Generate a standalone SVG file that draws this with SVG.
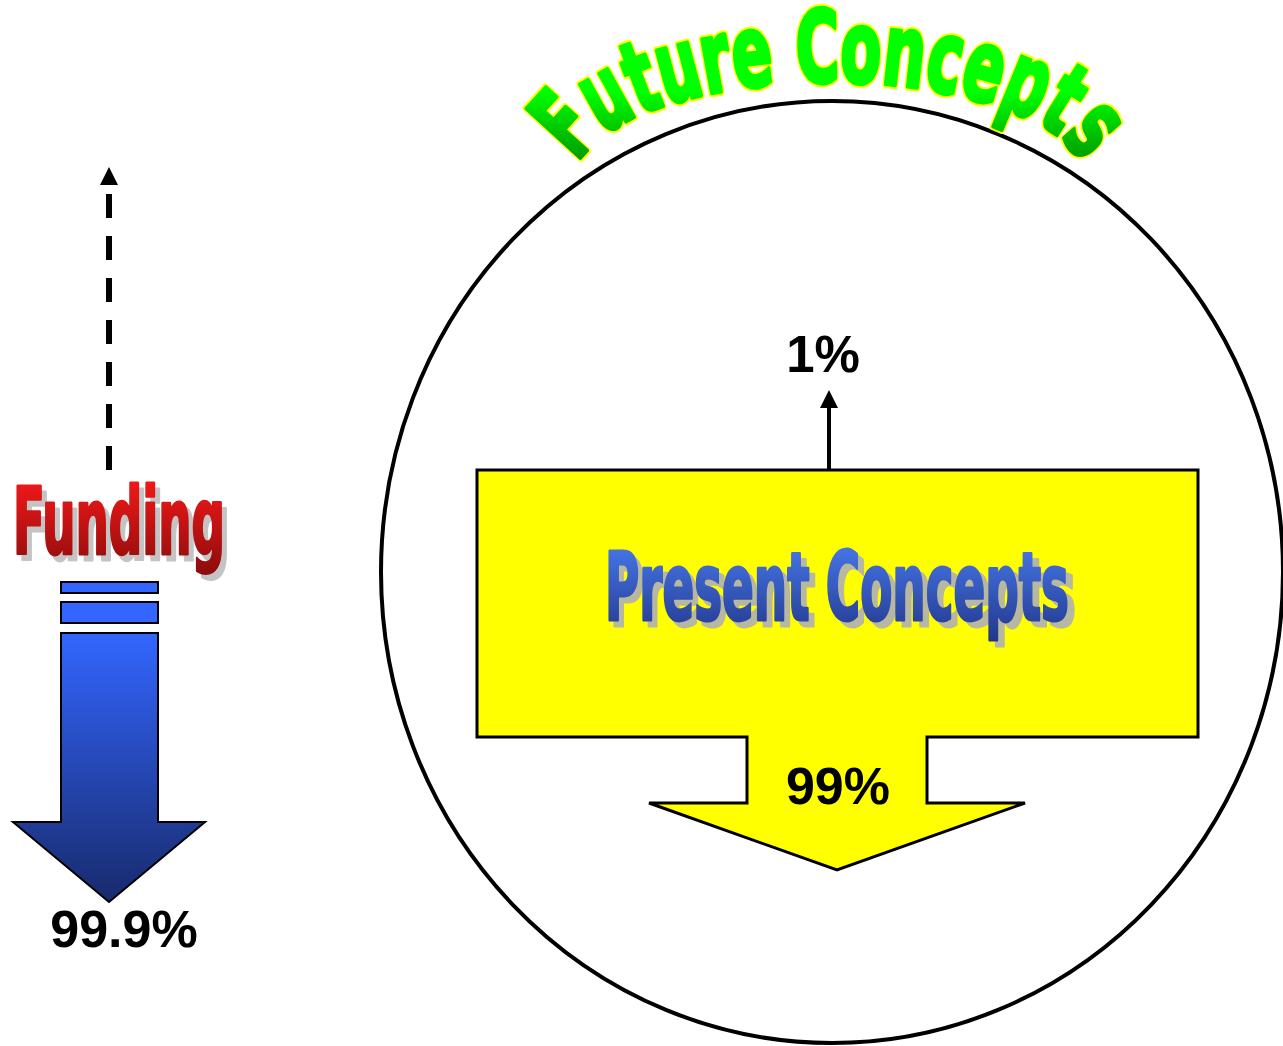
<svg xmlns="http://www.w3.org/2000/svg" width="1283" height="1046" viewBox="0 0 1283 1046">
  <style>
    .pct { font-family: "Liberation Sans", Arial, sans-serif; font-weight: bold; fill: #000; text-anchor: middle; }
    .word { font-family: "Liberation Sans Narrow", "DejaVu Sans Condensed", "Liberation Sans", sans-serif; font-weight: bold; stroke-linejoin: round; }
    .outline { stroke: #000; stroke-width: 3; stroke-linejoin: miter; }
  </style>
  <defs>
    <linearGradient id="gRed" x1="0" y1="0" x2="0" y2="1">
      <stop offset="0" stop-color="#ff1a1a"/>
      <stop offset="1" stop-color="#8a0c0c"/>
    </linearGradient>
    <linearGradient id="gBlueArrow" x1="0" y1="0" x2="0" y2="1">
      <stop offset="0" stop-color="#3366ff"/>
      <stop offset="1" stop-color="#182a6c"/>
    </linearGradient>
    <linearGradient id="gBlueText" x1="0" y1="0" x2="0" y2="1">
      <stop offset="0" stop-color="#4a7ef2"/>
      <stop offset="1" stop-color="#22368a"/>
    </linearGradient>
    <linearGradient id="gGreen" gradientUnits="userSpaceOnUse" x1="0" y1="8" x2="0" y2="160">
      <stop offset="0" stop-color="#00ff00"/>
      <stop offset="0.55" stop-color="#00ff00"/>
      <stop offset="1" stop-color="#009a00"/>
    </linearGradient>
    <path id="arch" d="M 574 182 A 256 100 0 0 1 1086 182"/>
  </defs>

  <rect width="1283" height="1046" fill="#fff"/>

  <!-- outer circle -->
  <g id="circle">
    <ellipse cx="832" cy="572" rx="451" ry="471" fill="none" stroke="#000" stroke-width="4"/>
  </g>

  <!-- arched title: yellow rim underneath, heavy green face on top -->
  <g id="future-concepts">
    <text class="word" font-size="100" fill="#ffff00" stroke="#ffff00" stroke-width="8" text-anchor="middle">
      <textPath href="#arch" startOffset="50%" textLength="548" lengthAdjust="spacingAndGlyphs">Future Concepts</textPath>
    </text>
    <text class="word" font-size="100" fill="url(#gGreen)" stroke="url(#gGreen)" stroke-width="4" text-anchor="middle">
      <textPath href="#arch" startOffset="50%" textLength="548" lengthAdjust="spacingAndGlyphs">Future Concepts</textPath>
    </text>
  </g>

  <!-- present concepts block with downward arrow -->
  <g id="present-concepts">
    <polygon class="outline" fill="#ffff00" points="477,470 1198,470 1198,737 927,737 927,803 1025,803 837,870 649,803 747,803 747,737 477,737"/>
    <text class="word" x="610" y="626" font-size="94" fill="#b8b8a0" stroke="#b8b8a0" stroke-width="3" textLength="466" lengthAdjust="spacingAndGlyphs">Present Concepts</text>
    <text class="word" x="605" y="620" font-size="94" fill="url(#gBlueText)" stroke="url(#gBlueText)" stroke-width="3" textLength="464" lengthAdjust="spacingAndGlyphs">Present Concepts</text>
    <text class="pct" x="838" y="804" font-size="52">99%</text>
  </g>

  <!-- 1% label above the block -->
  <g id="one-percent">
    <text class="pct" x="823" y="372" font-size="51">1%</text>
  </g>

  <!-- funding label -->
  <g id="funding">
    <text class="word" x="18" y="560" font-size="93" fill="#c4c4c4" stroke="#c4c4c4" stroke-width="3" textLength="212" lengthAdjust="spacingAndGlyphs">Funding</text>
    <text class="word" x="13" y="554" font-size="93" fill="url(#gRed)" stroke="url(#gRed)" stroke-width="3" textLength="212" lengthAdjust="spacingAndGlyphs">Funding</text>
  </g>

  <!-- funding bars and down arrow -->
  <g id="funding-arrow">
    <rect x="61" y="582" width="97" height="11" fill="#3366ff" stroke="#000" stroke-width="2"/>
    <rect x="61" y="602" width="97" height="21" fill="#3366ff" stroke="#000" stroke-width="2"/>
    <polygon points="61,633 158,633 158,822 205,822 109,902 13,822 61,822" fill="url(#gBlueArrow)" stroke="#000" stroke-width="2"/>
    <text class="pct" x="124" y="947" font-size="52">99.9%</text>
  </g>

  <!-- connectors -->
  <g id="connectors">
    <line x1="829" y1="470" x2="829" y2="406" stroke="#000" stroke-width="4"/>
    <polygon points="829,390 820,408 838,408" fill="#000"/>
    <line x1="109" y1="470" x2="109" y2="194" stroke="#000" stroke-width="6" stroke-dasharray="24 18"/>
    <polygon points="109,167 100,185 118,185" fill="#000"/>
  </g>
</svg>
